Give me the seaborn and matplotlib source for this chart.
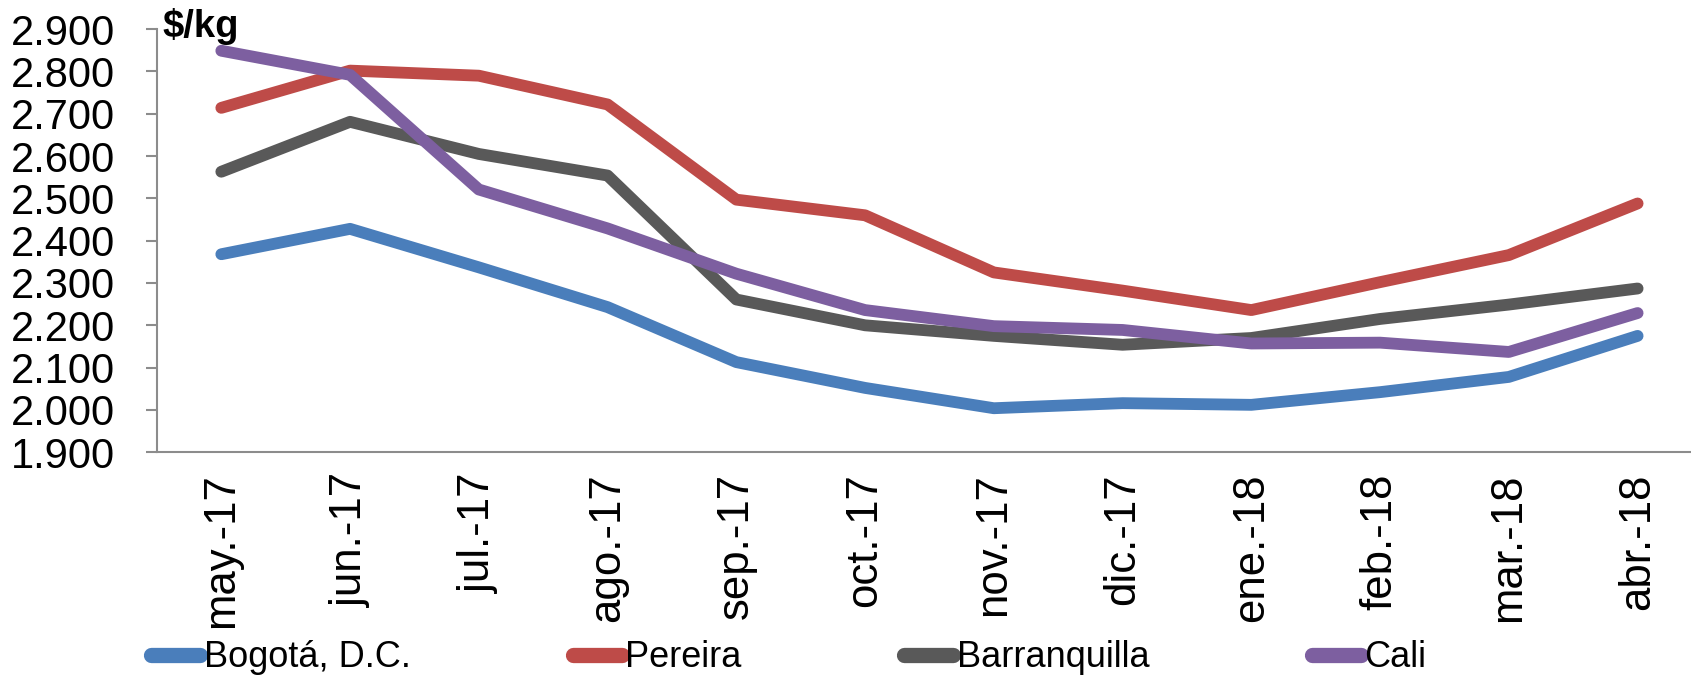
import pandas as pd
import numpy as np
import matplotlib.pyplot as plt
import seaborn as sns
from matplotlib.ticker import FuncFormatter

meses = ["may.-17", "jun.-17", "jul.-17", "ago.-17", "sep.-17", "oct.-17",
         "nov.-17", "dic.-17", "ene.-18", "feb.-18", "mar.-18", "abr.-18"]

bogota = [2368, 2428, 2337, 2243, 2113, 2052, 2004, 2016, 2012, 2042, 2078, 2175]
pereira = [2714, 2802, 2790, 2722, 2497, 2460, 2325, 2282, 2236, 2302, 2366, 2488]
barranquilla = [2563, 2681, 2605, 2554, 2261, 2200, 2175, 2154, 2170, 2215, 2249, 2287]
cali = [2849, 2792, 2521, 2429, 2322, 2236, 2198, 2189, 2157, 2159, 2137, 2229]

ciudades = ["Bogotá, D.C.", "Pereira", "Barranquilla", "Cali"]
colores = ["#4A7EBB", "#BE4B48", "#595959", "#7D5FA0"]

df = pd.DataFrame({
    "mes": meses * 4,
    "x": list(range(len(meses))) * 4,
    "precio": bogota + pereira + barranquilla + cali,
    "ciudad": np.repeat(ciudades, len(meses)),
})

sns.set_style("white")
plt.rcParams['font.family'] = ['Liberation Sans', 'DejaVu Sans']
plt.rcParams['text.color'] = 'black'
plt.rcParams['xtick.color'] = 'black'
plt.rcParams['ytick.color'] = 'black'

fig = plt.figure(figsize=(16.91, 6.78), dpi=100)
ax = fig.add_axes([0.0928, 0.333, 0.9137, 0.624])

sns.lineplot(data=df, x="x", y="precio", hue="ciudad", palette=colores,
             linewidth=8.5, ax=ax, sort=False, solid_capstyle="round")

ax.set_xlim(-0.5, 11.5)
ax.set_ylim(1900, 2900)
ax.set_yticks(range(1900, 3000, 100))
ax.yaxis.set_major_formatter(FuncFormatter(lambda v, p: f"{v/1000:.3f}"))
ax.set_xticks(range(len(meses)))
ax.set_xticklabels(meses, rotation=90)
ax.tick_params(axis="y", labelsize=30, length=8, width=1.5, color="#8C8C8C",
               labelcolor="black", direction="out", left=True, pad=22)
ax.tick_params(axis="x", labelsize=31.5, length=0, pad=15, labelcolor="black")
ax.set_xlabel("")
ax.set_ylabel("")

for s in ["top", "right"]:
    ax.spines[s].set_visible(False)
for s in ["left", "bottom"]:
    ax.spines[s].set_color("#8C8C8C")
    ax.spines[s].set_linewidth(1.5)

fig.text(0.096, 0.988, "$/kg", fontsize=27.5, fontweight="bold", va="top",
         ha="left", color="black")

leg = ax.legend(loc="center left", bbox_to_anchor=(0.0895, 0.03),
                bbox_transform=fig.transFigure, ncol=4, frameon=False,
                fontsize=26, handlelength=1.35, handletextpad=0.1,
                columnspacing=4.5, borderpad=0, borderaxespad=0)
for h in leg.get_lines():
    h.set_linewidth(11)
    h.set_solid_capstyle("round")
for t in leg.get_texts():
    t.set_color("black")

fig.savefig("out.png", dpi=100)
